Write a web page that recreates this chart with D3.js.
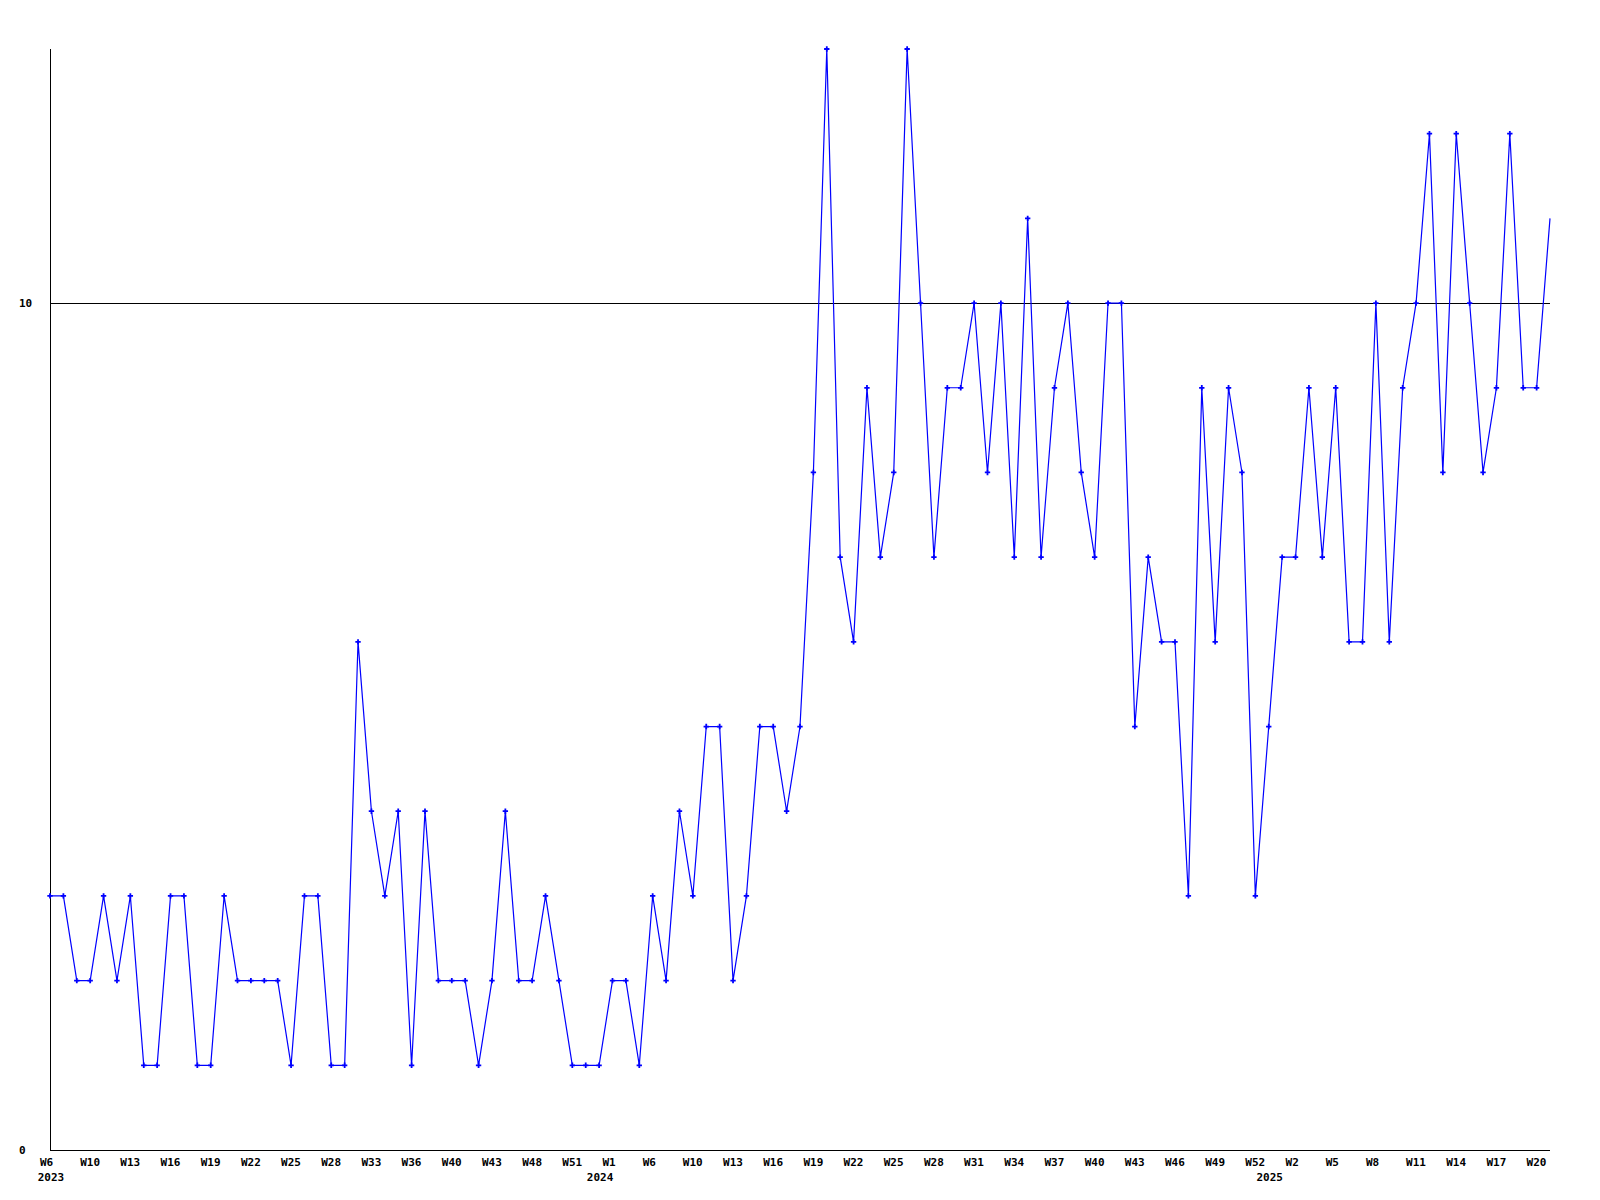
<!DOCTYPE html>
<html>
<head>
<meta charset="utf-8">
<script src="https://cdn.jsdelivr.net/npm/d3@7"></script>
<style>
  html, body { margin: 0; padding: 0; background: #fff; }
  svg text { font-family: "DejaVu Sans Mono", monospace; font-weight: bold; font-size: 11px; fill: #000; }
</style>
</head>
<body>
<svg id="chart" width="1600" height="1200"></svg>
<script>
// ---- data ----
const weeks = [
  "W6","W7","W9","W10","W11","W12","W13","W14","W15","W16","W17","W18","W19","W20","W21","W22","W23","W24","W25","W26","W27","W28","W30","W31","W33","W34","W35","W36","W38","W39","W40","W41","W42","W43","W45","W46","W48","W49","W50","W51","W52",
  "W0","W1","W3","W4","W6","W7","W8","W10","W11","W12","W13","W14","W15","W16","W17","W18","W19","W20","W21","W22","W23","W24","W25","W26","W27","W28","W29","W30","W31","W32","W33","W34","W35","W36","W37","W38","W39","W40","W41","W42","W43","W44","W45","W46","W47","W48","W49","W50","W51","W52",
  "W0","W1","W2","W3","W4","W5","W6","W7","W8","W9","W10","W11","W12","W13","W14","W15","W16","W17","W18","W19","W20","W21"
];
const years = [
  ...Array(41).fill("2023"),
  ...Array(50).fill("2024"),
  ...Array(22).fill("2025")
];
const values = [
  3,3,2,2,3,2,3,1,1,3,3,1,1,3,2,2,2,2,1,3,3,1,1,6,4,3,4,1,4,2,2,2,1,2,4,2,2,3,2,1,1,
  1,2,2,1,3,2,4,3,5,5,2,3,5,5,4,5,8,13,7,6,9,7,8,13,10,7,9,9,10,8,10,7,11,7,9,10,8,7,10,10,5,7,6,6,3,9,6,9,8,3,
  5,7,7,9,7,9,6,6,10,6,9,10,12,8,12,10,8,9,12,9,9,11
];
const yTicks = [0, 10];
const yMax = 13;

// ---- chart ----
const svg = d3.select("#chart");
const mLeft = 50, mRight = 1550, mTop = 49, mBottom = 1150;
const idx = d3.range(values.length);

const x = d3.scalePoint().domain(idx).range([mLeft, mRight]);
const y = d3.scaleLinear().domain([0, yMax]).range([mBottom, mTop]);

// horizontal reference line(s) at ticks
svg.append("g").selectAll("line").data(yTicks.filter(t => t > 0)).join("line")
  .attr("x1", mLeft).attr("x2", mRight)
  .attr("y1", d => Math.round(y(d)) + 0.5).attr("y2", d => Math.round(y(d)) + 0.5)
  .attr("stroke", "#000").attr("stroke-width", 1);

// y tick labels
svg.append("g").selectAll("text").data(yTicks).join("text")
  .attr("x", 19).attr("y", d => y(d) + 4)
  .text(d => d);

// axes lines
svg.append("line").attr("x1", mLeft + 0.5).attr("x2", mLeft + 0.5).attr("y1", mTop).attr("y2", mBottom)
  .attr("stroke", "#000").attr("stroke-width", 1);
svg.append("line").attr("x1", mLeft).attr("x2", mRight).attr("y1", mBottom + 0.5).attr("y2", mBottom + 0.5)
  .attr("stroke", "#000").attr("stroke-width", 1);

// x tick labels: every 3rd point
const labIdx = idx.filter(i => i % 3 === 0);
svg.append("g").selectAll("text").data(labIdx).join("text")
  .attr("x", i => x(i) - 10).attr("y", 1166)
  .text(i => weeks[i]);

// year labels at first point of each year
const yearStart = idx.filter(i => i === 0 || years[i] !== years[i - 1]);
svg.append("g").selectAll("text").data(yearStart).join("text")
  .attr("x", i => x(i) + 1).attr("y", 1181).attr("text-anchor", "middle")
  .text(i => years[i]);

// line
const line = d3.line().x(i => x(i)).y(i => y(values[i]));
svg.append("path").datum(idx)
  .attr("d", line)
  .attr("fill", "none").attr("stroke", "#0000ff").attr("stroke-width", 1.2);

// markers (the final point carries no marker in the original)
const sym = d3.symbol().type(d3.symbolCross).size(16);
svg.append("g").selectAll("path").data(idx.slice(0, -1)).join("path")
  .attr("transform", i => `translate(${x(i)},${y(values[i])})`)
  .attr("d", sym)
  .attr("fill", "#0000ff");
</script>
</body>
</html>
